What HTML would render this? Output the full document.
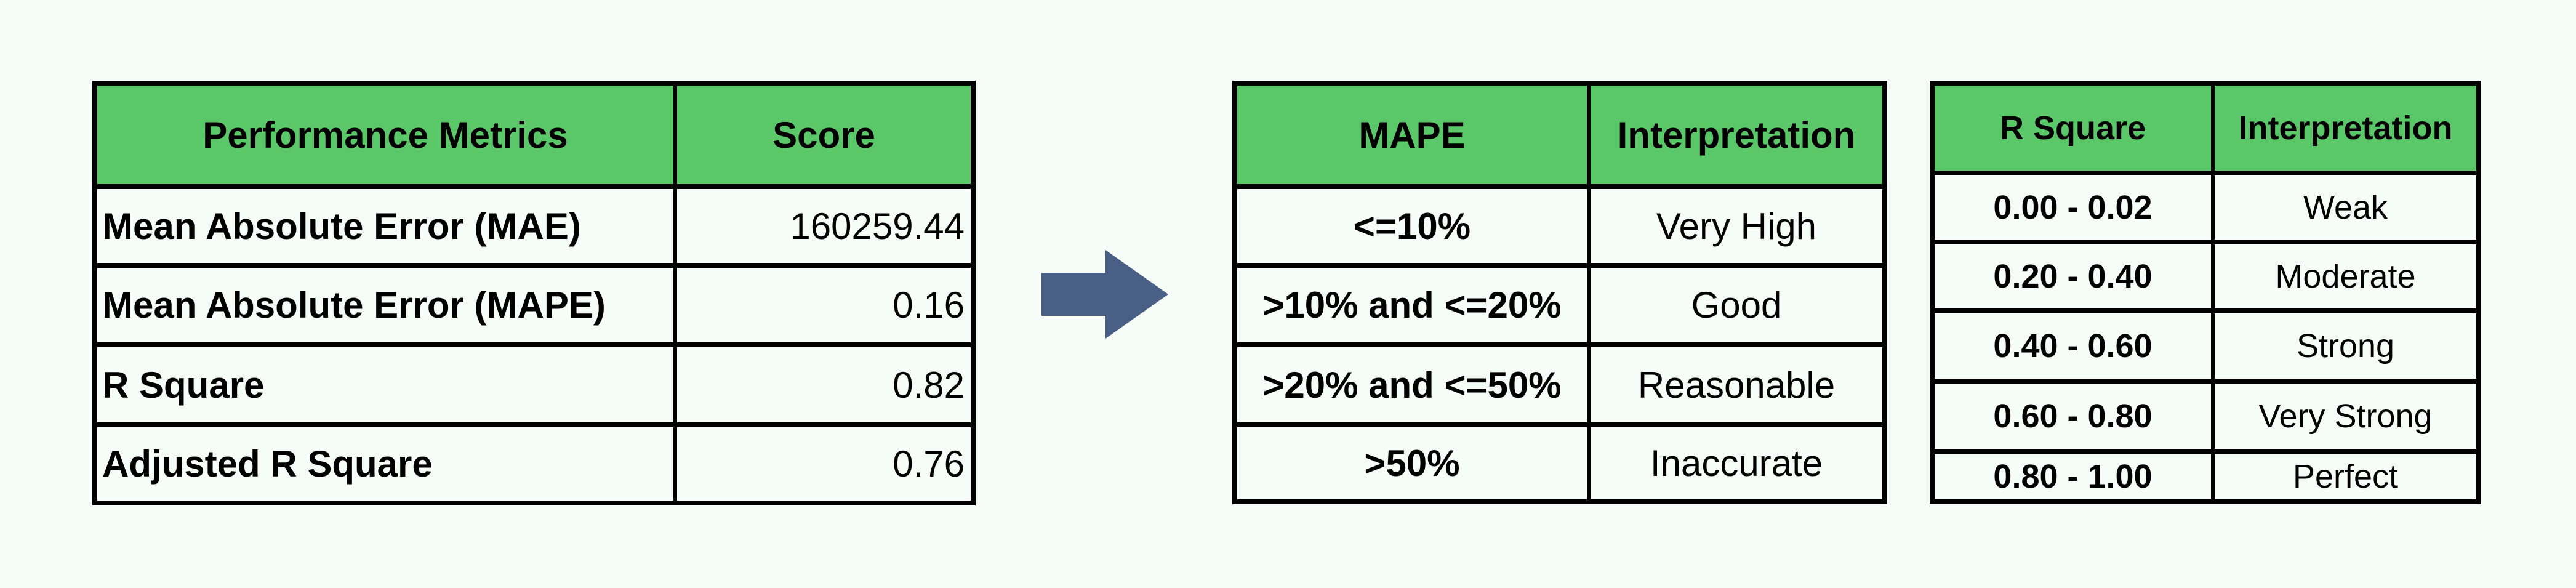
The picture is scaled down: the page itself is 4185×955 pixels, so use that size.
<!DOCTYPE html>
<html><head><meta charset="utf-8"><style>
html,body{margin:0;padding:0;}
body{width:4185px;height:955px;background:#f6fcf7;position:relative;overflow:hidden;font-family:"Liberation Sans Narrow","Liberation Sans",sans-serif;color:#000;}
.tbl{position:absolute;background:#000;}
.c{position:absolute;background:#f6fcf7;display:flex;align-items:center;justify-content:center;font-size:60px;white-space:nowrap;}
.h{background:#5ac769;font-weight:bold;}
.b{font-weight:bold;}
.l{justify-content:flex-start;padding-left:8px;box-sizing:border-box;}
.r{justify-content:flex-end;padding-right:10px;box-sizing:border-box;}
.s{font-size:54px;}
</style></head><body>
<div class="tbl" style="left:150px;top:131px;width:1435px;height:690px;"></div>
<div class="c h" style="left:158px;top:139px;width:936px;height:160px;">Performance Metrics</div>
<div class="c h" style="left:1100px;top:139px;width:477px;height:160px;">Score</div>
<div class="c b l" style="left:158px;top:307px;width:936px;height:120px;">Mean Absolute Error (MAE)</div>
<div class="c r" style="left:1100px;top:307px;width:477px;height:120px;">160259.44</div>
<div class="c b l" style="left:158px;top:435px;width:936px;height:121px;">Mean Absolute Error (MAPE)</div>
<div class="c r" style="left:1100px;top:435px;width:477px;height:121px;">0.16</div>
<div class="c b l" style="left:158px;top:564px;width:936px;height:122px;">R Square</div>
<div class="c r" style="left:1100px;top:564px;width:477px;height:122px;">0.82</div>
<div class="c b l" style="left:158px;top:694px;width:936px;height:119px;">Adjusted R Square</div>
<div class="c r" style="left:1100px;top:694px;width:477px;height:119px;">0.76</div>

<svg style="position:absolute;left:1692px;top:406px;" width="206" height="144"><polygon points="0,37 104,37 104,0 206,72 104,144 104,107 0,107" fill="#4a5f86"/></svg>

<div class="tbl" style="left:2002px;top:131px;width:1064px;height:688px;"></div>
<div class="c h" style="left:2010px;top:139px;width:568px;height:160px;">MAPE</div>
<div class="c h" style="left:2584px;top:139px;width:474px;height:160px;">Interpretation</div>
<div class="c b" style="left:2010px;top:307px;width:568px;height:120px;">&lt;=10%</div>
<div class="c" style="left:2584px;top:307px;width:474px;height:120px;">Very High</div>
<div class="c b" style="left:2010px;top:435px;width:568px;height:121px;">&gt;10% and &lt;=20%</div>
<div class="c" style="left:2584px;top:435px;width:474px;height:121px;">Good</div>
<div class="c b" style="left:2010px;top:564px;width:568px;height:122px;">&gt;20% and &lt;=50%</div>
<div class="c" style="left:2584px;top:564px;width:474px;height:122px;">Reasonable</div>
<div class="c b" style="left:2010px;top:694px;width:568px;height:117px;">&gt;50%</div>
<div class="c" style="left:2584px;top:694px;width:474px;height:117px;">Inaccurate</div>

<div class="tbl" style="left:3135px;top:131px;width:896px;height:688px;"></div>
<div class="c h s" style="left:3143px;top:139px;width:449px;height:138px;">R Square</div>
<div class="c h s" style="left:3598px;top:139px;width:425px;height:138px;">Interpretation</div>
<div class="c b s" style="left:3143px;top:285px;width:449px;height:104px;">0.00 - 0.02</div>
<div class="c s" style="left:3598px;top:285px;width:425px;height:104px;">Weak</div>
<div class="c b s" style="left:3143px;top:397px;width:449px;height:104px;">0.20 - 0.40</div>
<div class="c s" style="left:3598px;top:397px;width:425px;height:104px;">Moderate</div>
<div class="c b s" style="left:3143px;top:509px;width:449px;height:106px;">0.40 - 0.60</div>
<div class="c s" style="left:3598px;top:509px;width:425px;height:106px;">Strong</div>
<div class="c b s" style="left:3143px;top:623px;width:449px;height:106px;">0.60 - 0.80</div>
<div class="c s" style="left:3598px;top:623px;width:425px;height:106px;">Very Strong</div>
<div class="c b s" style="left:3143px;top:737px;width:449px;height:74px;">0.80 - 1.00</div>
<div class="c s" style="left:3598px;top:737px;width:425px;height:74px;">Perfect</div>
</body></html>
